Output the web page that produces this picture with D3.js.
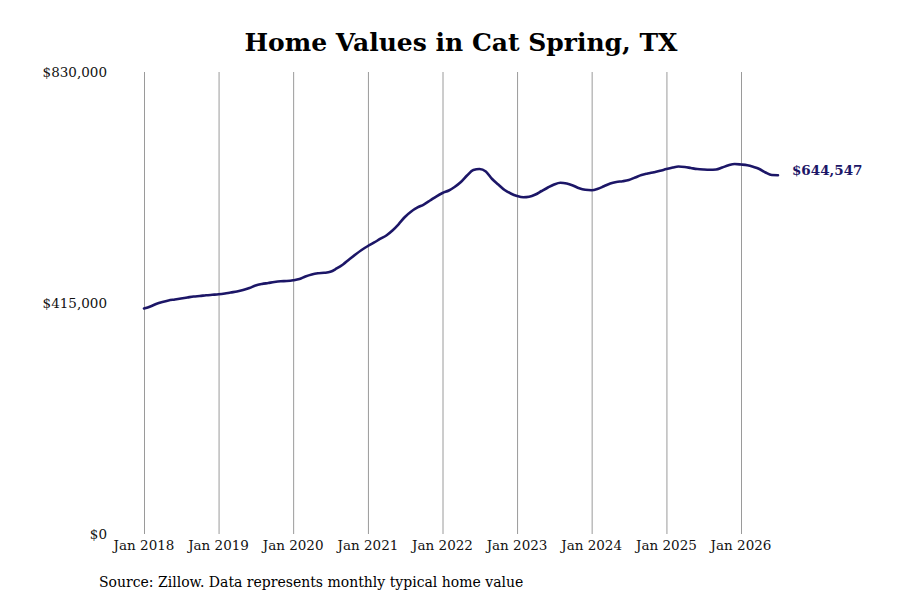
<!DOCTYPE html>
<html>
<head>
<meta charset="utf-8">
<script src="https://cdn.jsdelivr.net/npm/d3@7"></script>
<style>
  html, body { margin: 0; padding: 0; background: #fff; }
  svg { display: block; font-family: "DejaVu Serif", serif; }
</style>
</head>
<body>
<svg id="chart" width="900" height="600"></svg>
<script>
const title = "Home Values in Cat Spring, TX";
const sourceNote = "Source: Zillow. Data represents monthly typical home value";
const startMonth = "2018-01";
const values = [
  405100, 408700, 413200, 416800, 419500, 421300, 423100, 424900, 426700, 427600, 428800, 429700,
  430600, 432100, 433900, 435700, 438300, 441900, 446400, 449100, 450900, 452700, 454000, 454500,
  455800, 458100, 462600, 466200, 468300, 469200, 471000, 477000, 484200, 493100, 502100, 510200,
  517400, 523700, 530000, 536300, 545200, 556900, 569500, 579400, 586600, 591900, 599100, 606300,
  612600, 617100, 623400, 632400, 644000, 653900, 655700, 651200, 637800, 627900, 618000, 611700,
  607200, 604900, 605800, 609900, 616200, 622500, 627900, 631100, 629700, 626100, 621100, 618400,
  617600, 620300, 624800, 629700, 632400, 633800, 636000, 640500, 644900, 647600, 650000, 652500,
  655700, 658400, 660200, 659300, 657500, 655700, 654800, 654300, 654800, 658400, 662500, 664700,
  663800, 662400, 659700, 655700, 649400, 644900, 644547
];
const yTicks = [0, 415000, 830000];
const xTickYears = [2018, 2019, 2020, 2021, 2022, 2023, 2024, 2025, 2026];

(function () {
const parse = d3.timeParse("%Y-%m");
const t0 = parse(startMonth);
const data = values.map((v, i) => ({ date: d3.timeMonth.offset(t0, i), value: v }));

const svg = d3.select("#chart");
const mLeft = 144, mRight = 741, mTop = 72, mBottom = 534;

const x = d3.scaleTime()
  .domain([new Date(2018, 0, 1), new Date(2026, 0, 1)])
  .range([mLeft, mRight]);
const y = d3.scaleLinear().domain([0, 830000]).range([mBottom, mTop]);

// vertical grid lines
svg.append("g").selectAll("line")
  .data(xTickYears)
  .join("line")
  .attr("x1", d => x(new Date(d, 0, 1)) + 0.5)
  .attr("x2", d => x(new Date(d, 0, 1)) + 0.5)
  .attr("y1", mTop)
  .attr("y2", mBottom)
  .attr("stroke", "#9a9a9a")
  .attr("stroke-width", 1);

// x tick labels
svg.append("g").selectAll("text")
  .data(xTickYears)
  .join("text")
  .attr("x", d => x(new Date(d, 0, 1)))
  .attr("y", 550)
  .attr("text-anchor", "middle")
  .attr("font-size", "13.5px")
  .attr("fill", "#111")
  .text(d => "Jan " + d);

// y tick labels
const fmt = d3.format(",");
svg.append("g").selectAll("text")
  .data(yTicks)
  .join("text")
  .attr("x", 107)
  .attr("y", d => y(d) + 5)
  .attr("text-anchor", "end")
  .attr("font-size", "13.5px")
  .attr("fill", "#111")
  .text(d => "$" + fmt(d));

// line
const line = d3.line()
  .x(d => x(d.date))
  .y(d => y(d.value))
  .curve(d3.curveMonotoneX);

svg.append("path")
  .datum(data)
  .attr("d", line)
  .attr("fill", "none")
  .attr("stroke", "#1c1667")
  .attr("stroke-width", 2.6)
  .attr("stroke-linejoin", "round")
  .attr("stroke-linecap", "round");

// end label
const last = data[data.length - 1];
svg.append("text")
  .attr("x", x(last.date) + 14)
  .attr("y", y(last.value) - 5)
  .attr("dy", "0.35em")
  .attr("font-size", "13.5px")
  .attr("font-weight", "bold")
  .attr("fill", "#1c1667")
  .text("$" + fmt(last.value));

// title
svg.append("text")
  .attr("x", 461)
  .attr("y", 51)
  .attr("text-anchor", "middle")
  .attr("font-size", "25px")
  .attr("font-weight", "bold")
  .attr("fill", "#000")
  .text(title);

// source
svg.append("text")
  .attr("x", 99)
  .attr("y", 587)
  .attr("font-size", "14px")
  .attr("fill", "#000")
  .text(sourceNote);
})();
</script>
</body>
</html>
